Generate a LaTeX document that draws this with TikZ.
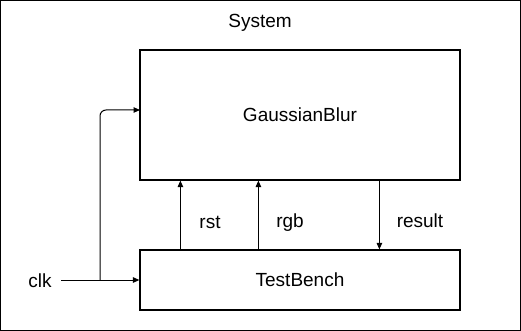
\documentclass[tikz,border=0pt]{standalone}
\usepackage{fontspec}
\setmainfont{Liberation Sans}
\usetikzlibrary{arrows.meta,positioning,calc}

\tikzset{
    block/.style={draw, line width=1.2pt, rectangle, minimum width=320pt, inner sep=0pt},
    wire/.style={line width=1pt, -{Triangle[length=6.5pt,width=5.5pt]}},
    lbl/.style={anchor=base, inner sep=0pt}
}

\begin{document}
\begin{tikzpicture}[x=1pt, y=-1pt, font=\fontsize{19}{22}\selectfont]
        \useasboundingbox (0,0) rectangle (521,331);

        % outer frame of the system
        \draw[line width=1.4pt] (0.7,0.7) rectangle (520.3,330.3);
        \node[lbl] (sys) at (260,28) {System};

        % filter block (top)
        \node[block, minimum height=130pt] (gauss) at (300,115) {GaussianBlur};

        % test bench (bottom)
        \node[block, minimum height=60pt] (bench) at (300,280) {TestBench};

        % clock input, split to both blocks
        \node[lbl] (clk) at (40,287) {clk};
        \coordinate (clkout) at (61,280);
        \coordinate (split) at (100,280);
        \coordinate (gin) at (140,110);
        \draw[wire] (clkout) -- (bench.west);
        \draw[wire, rounded corners=6pt] (split) |- (gin);

        % signals between bench and filter
        \draw[wire] ([xshift=41pt]bench.north west) -- ([xshift=41pt]gauss.south west);
        \draw[wire] ([xshift=119pt]bench.north west) -- ([xshift=119pt]gauss.south west);
        \draw[wire] ([xshift=240pt]gauss.south west) -- ([xshift=240pt]bench.north west);

        \node[lbl] (rst) at (210,228) {rst};
        \node[lbl] (rgb) at (290,227) {rgb};
        \node[lbl] (res) at (420,227) {result};
    \end{tikzpicture}
\end{document}
